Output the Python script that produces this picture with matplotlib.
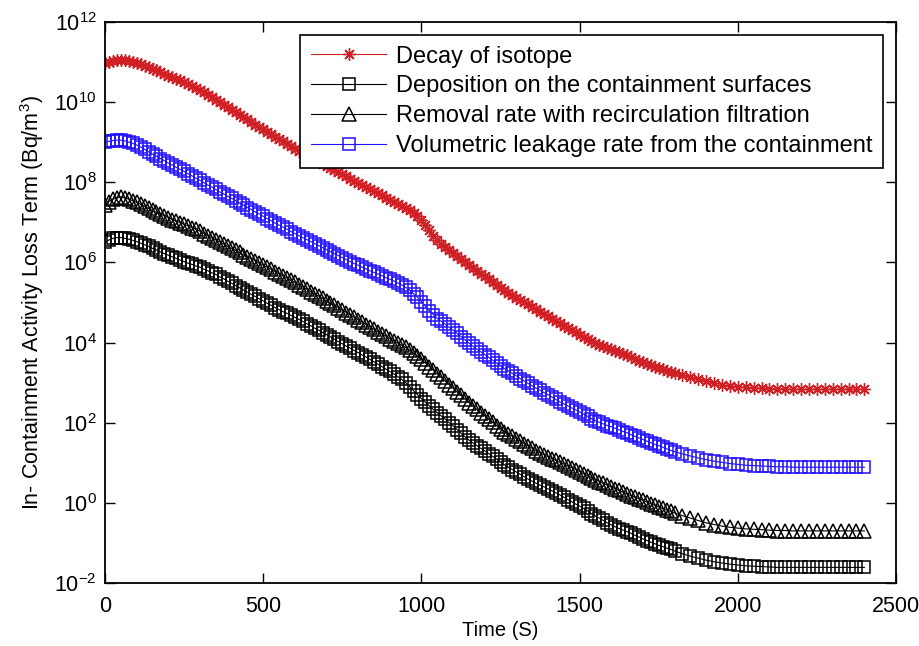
"""In-containment activity loss terms over time (semi-log plot)."""
import numpy
import matplotlib as mpl

mpl.use('Agg')
from matplotlib import pyplot as plt
from matplotlib.ticker import LogFormatterMathtext


# time grid, seconds: fine steps up to 1800 s, coarser afterwards
time_s = list(numpy.arange(0, 1800.1, 12.5)) + list(range(1825, 2401, 25))

# log10 of the loss term (Bq/m^3)
decay_log = [
    10.97, 11.00, 11.03, 11.05, 11.06, 11.05, 11.03, 11.01, 10.98, 10.95,
    10.91, 10.87, 10.83, 10.79, 10.75, 10.71, 10.66, 10.62, 10.58, 10.54,
    10.49, 10.45, 10.40, 10.35, 10.30, 10.24, 10.18, 10.12, 10.06, 10.00,
    9.93, 9.87, 9.81, 9.75, 9.69, 9.63, 9.57, 9.50, 9.44, 9.38,
    9.32, 9.26, 9.20, 9.14, 9.08, 9.02, 8.96, 8.90, 8.84, 8.79,
    8.73, 8.68, 8.62, 8.57, 8.52, 8.46, 8.41, 8.36, 8.31, 8.25,
    8.20, 8.15, 8.09, 8.04, 7.98, 7.93, 7.88, 7.82, 7.77, 7.72,
    7.67, 7.61, 7.56, 7.51, 7.46, 7.41, 7.36, 7.30, 7.23, 7.15,
    7.06, 6.94, 6.80, 6.67, 6.55, 6.46, 6.38, 6.30, 6.23, 6.15,
    6.08, 6.01, 5.94, 5.86, 5.79, 5.72, 5.65, 5.58, 5.51, 5.44,
    5.37, 5.30, 5.24, 5.18, 5.12, 5.06, 5.00, 4.95, 4.89, 4.83,
    4.77, 4.72, 4.66, 4.60, 4.54, 4.48, 4.42, 4.37, 4.31, 4.26,
    4.20, 4.14, 4.09, 4.04, 3.99, 3.95, 3.91, 3.87, 3.83, 3.80,
    3.76, 3.72, 3.68, 3.63, 3.59, 3.55, 3.51, 3.47, 3.43, 3.40,
    3.36, 3.33, 3.30, 3.27, 3.24,
    3.18, 3.13, 3.08, 3.03, 2.99, 2.95, 2.92, 2.90, 2.88, 2.87,
    2.86, 2.85, 2.84, 2.84, 2.83, 2.83, 2.83, 2.83, 2.83, 2.83,
    2.83, 2.83, 2.83, 2.83,
]
deposition_log = [
    6.50, 6.56, 6.60, 6.62, 6.62, 6.60, 6.58, 6.55, 6.52, 6.48,
    6.44, 6.40, 6.35, 6.31, 6.26, 6.22, 6.18, 6.14, 6.10, 6.06,
    6.02, 5.98, 5.95, 5.91, 5.88, 5.83, 5.79, 5.74, 5.70, 5.64,
    5.59, 5.53, 5.48, 5.42, 5.37, 5.31, 5.26, 5.20, 5.15, 5.09,
    5.04, 4.98, 4.93, 4.87, 4.82, 4.77, 4.73, 4.68, 4.63, 4.58,
    4.53, 4.47, 4.42, 4.36, 4.31, 4.25, 4.20, 4.14, 4.08, 4.02,
    3.97, 3.91, 3.86, 3.80, 3.75, 3.69, 3.64, 3.58, 3.52, 3.46,
    3.40, 3.34, 3.28, 3.22, 3.15, 3.08, 3.00, 2.90, 2.80, 2.70,
    2.60, 2.51, 2.42, 2.33, 2.25, 2.17, 2.09, 2.00, 1.92, 1.83,
    1.74, 1.65, 1.57, 1.50, 1.43, 1.36, 1.30, 1.23, 1.16, 1.09,
    1.02, 0.95, 0.89, 0.83, 0.77, 0.71, 0.65, 0.59, 0.54, 0.49,
    0.44, 0.40, 0.35, 0.30, 0.25, 0.20, 0.14, 0.08, 0.03, -0.03,
    -0.08, -0.14, -0.20, -0.27, -0.33, -0.38, -0.44, -0.50, -0.55, -0.60,
    -0.64, -0.68, -0.72, -0.76, -0.81, -0.85, -0.90, -0.94, -0.98, -1.02,
    -1.06, -1.09, -1.13, -1.16, -1.20,
    -1.27, -1.33, -1.38, -1.43, -1.47, -1.50, -1.53, -1.55, -1.57, -1.58,
    -1.59, -1.60, -1.61, -1.61, -1.61, -1.61, -1.61, -1.61, -1.61, -1.61,
    -1.61, -1.61, -1.61, -1.61,
]
filtration_log = [
    7.43, 7.52, 7.58, 7.61, 7.63, 7.61, 7.58, 7.54, 7.50, 7.45,
    7.40, 7.35, 7.30, 7.25, 7.21, 7.16, 7.12, 7.07, 7.03, 6.99,
    6.95, 6.91, 6.87, 6.83, 6.78, 6.72, 6.67, 6.61, 6.56, 6.51,
    6.46, 6.40, 6.35, 6.30, 6.25, 6.19, 6.14, 6.09, 6.04, 5.98,
    5.93, 5.88, 5.83, 5.77, 5.72, 5.66, 5.61, 5.55, 5.50, 5.44,
    5.39, 5.33, 5.27, 5.21, 5.16, 5.10, 5.04, 4.98, 4.93, 4.87,
    4.81, 4.75, 4.69, 4.63, 4.57, 4.51, 4.45, 4.39, 4.33, 4.27,
    4.22, 4.16, 4.10, 4.04, 3.99, 3.93, 3.88, 3.81, 3.74, 3.66,
    3.58, 3.49, 3.40, 3.31, 3.22, 3.13, 3.04, 2.95, 2.86, 2.77,
    2.68, 2.59, 2.50, 2.41, 2.33, 2.25, 2.17, 2.09, 2.01, 1.93,
    1.85, 1.78, 1.72, 1.66, 1.60, 1.54, 1.48, 1.42, 1.36, 1.30,
    1.25, 1.20, 1.15, 1.10, 1.06, 1.01, 0.97, 0.92, 0.88, 0.83,
    0.78, 0.73, 0.68, 0.63, 0.58, 0.53, 0.49, 0.44, 0.40, 0.35,
    0.31, 0.26, 0.22, 0.18, 0.14, 0.10, 0.07, 0.02, -0.02, -0.06,
    -0.10, -0.14, -0.18, -0.21, -0.25,
    -0.32, -0.38, -0.44, -0.50, -0.54, -0.58, -0.61, -0.63, -0.65, -0.66,
    -0.67, -0.68, -0.69, -0.69, -0.70, -0.70, -0.70, -0.70, -0.70, -0.70,
    -0.70, -0.70, -0.70, -0.70,
]
leakage_log = [
    9.00, 9.02, 9.04, 9.05, 9.05, 9.03, 9.00, 8.97, 8.93, 8.88,
    8.82, 8.76, 8.70, 8.65, 8.59, 8.54, 8.48, 8.43, 8.37, 8.32,
    8.27, 8.21, 8.16, 8.10, 8.05, 7.99, 7.93, 7.88, 7.82, 7.76,
    7.71, 7.65, 7.60, 7.54, 7.48, 7.43, 7.37, 7.32, 7.26, 7.21,
    7.15, 7.09, 7.04, 6.98, 6.93, 6.88, 6.83, 6.77, 6.72, 6.67,
    6.62, 6.57, 6.52, 6.47, 6.42, 6.37, 6.32, 6.27, 6.22, 6.17,
    6.12, 6.07, 6.02, 5.97, 5.93, 5.88, 5.84, 5.79, 5.75, 5.71,
    5.67, 5.62, 5.58, 5.54, 5.49, 5.44, 5.38, 5.31, 5.22, 5.13,
    5.02, 4.91, 4.80, 4.70, 4.60, 4.53, 4.46, 4.38, 4.31, 4.23,
    4.15, 4.07, 3.99, 3.91, 3.84, 3.77, 3.70, 3.63, 3.56, 3.49,
    3.42, 3.35, 3.29, 3.23, 3.17, 3.10, 3.04, 2.98, 2.92, 2.86,
    2.81, 2.75, 2.70, 2.64, 2.58, 2.52, 2.47, 2.42, 2.37, 2.32,
    2.27, 2.21, 2.16, 2.10, 2.05, 2.01, 1.97, 1.93, 1.90, 1.86,
    1.82, 1.78, 1.75, 1.70, 1.66, 1.62, 1.58, 1.54, 1.50, 1.46,
    1.43, 1.39, 1.35, 1.31, 1.28,
    1.22, 1.17, 1.12, 1.08, 1.04, 1.01, 0.98, 0.96, 0.94, 0.93,
    0.92, 0.91, 0.90, 0.90, 0.89, 0.89, 0.89, 0.89, 0.89, 0.89,
    0.89, 0.89, 0.89, 0.89,
]

labels = [
    'Decay of isotope',
    'Deposition on the containment surfaces',
    'Removal rate with recirculation filtration',
    'Volumetric leakage rate from the containment',
]
x_ticks = [0, 500, 1000, 1500, 2000, 2500]


def plot_loss_terms() -> None:
    plt.rcParams['font.family'] = ['Liberation Sans', 'DejaVu Sans']
    plt.rcParams['font.size'] = 15
    plt.rcParams['mathtext.fontset'] = 'custom'
    plt.rcParams['mathtext.rm'] = 'Liberation Sans'
    plt.rcParams['mathtext.default'] = 'regular'

    t = numpy.array(time_s)
    fig = plt.figure(figsize=(9.19, 6.46), dpi=100)
    ax = fig.add_axes([0.1143, 0.0975, 0.8607, 0.8685])

    # MATLAB-style 8-armed asterisk
    ax.semilogy(t, 10 ** numpy.array(decay_log), color='#d02025', marker=(8, 2, 0),
                markersize=9, markeredgewidth=1.0, linewidth=0.8, label=labels[0])
    ax.semilogy(t, 10 ** numpy.array(deposition_log), color='black', marker='s',
                markersize=9, markerfacecolor='none', markeredgewidth=1.1,
                linewidth=0.8, label=labels[1])
    ax.semilogy(t, 10 ** numpy.array(filtration_log), color='black', marker='^',
                markersize=10, markerfacecolor='none', markeredgewidth=1.1,
                linewidth=0.8, label=labels[2])
    ax.semilogy(t, 10 ** numpy.array(leakage_log), color='#2010ff', marker='s',
                markersize=9, markerfacecolor='none', markeredgewidth=1.1,
                linewidth=0.8, label=labels[3])

    ax.set_xlim(0, 2500)
    ax.set_ylim(1e-2, 1e12)
    ax.set_xticks(x_ticks)
    ax.set_yticks([10.0 ** k for k in range(-2, 13, 2)])
    ax.yaxis.set_major_formatter(LogFormatterMathtext())
    ax.yaxis.set_minor_locator(mpl.ticker.NullLocator())
    ax.tick_params(direction='in', length=7, width=1, top=True, right=True,
                   labelsize=15.5)
    ax.tick_params(axis='x', pad=9)
    ax.tick_params(axis='y', pad=6)
    for side in ax.spines.values():
        side.set_linewidth(1.3)

    ax.set_xlabel('Time (S)', fontsize=14.5, labelpad=3)
    ax.set_ylabel('In- Containment Activity Loss Term (Bq/m$^3$)',
                  fontsize=15.5, labelpad=6)

    leg = ax.legend(loc='upper right', fontsize=17, handlelength=3.2,
                    handletextpad=0.4, labelspacing=0.33, borderpad=0.45,
                    borderaxespad=0.55, fancybox=False, framealpha=1,
                    edgecolor='black')
    leg.get_frame().set_linewidth(1.2)

    fig.savefig('out.png', dpi=100)


if __name__ == '__main__':
    plot_loss_terms()
